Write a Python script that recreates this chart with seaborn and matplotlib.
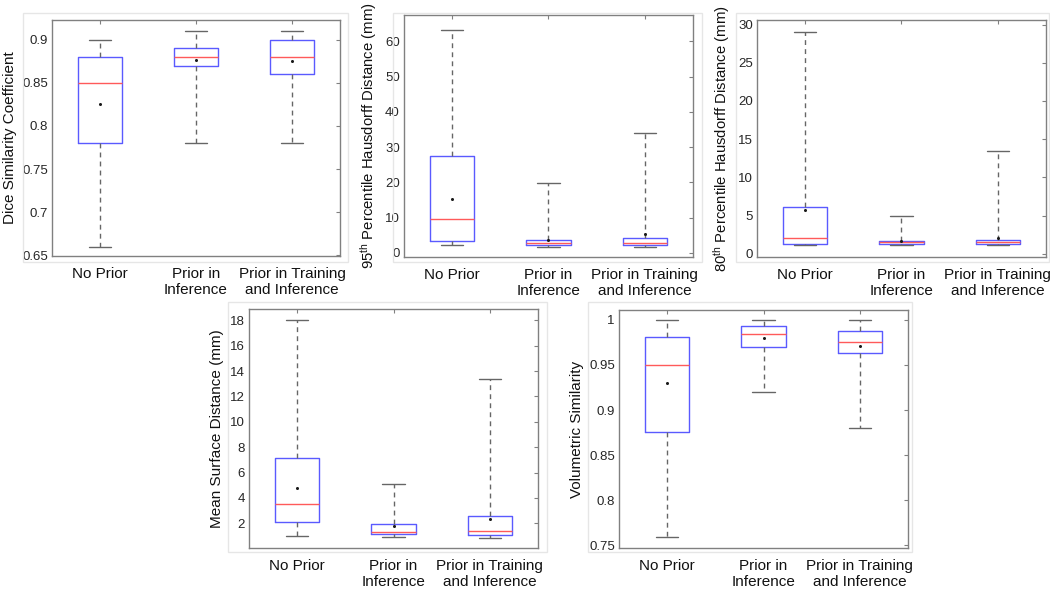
import numpy as np
import pandas as pd
import matplotlib
matplotlib.use('Agg')
import matplotlib.pyplot as plt
from matplotlib.patches import Rectangle
import seaborn as sns

# Groups compared in every panel
categories = ["No Prior", "Prior in\nInference", "Prior in Training\nand Inference"]

# Five-number summaries per group: [lower whisker, Q1, median, Q3, upper whisker]
dsc_summary = [
    [0.66, 0.78, 0.85, 0.88, 0.90],
    [0.78, 0.87, 0.88, 0.89, 0.91],
    [0.78, 0.86, 0.88, 0.90, 0.91],
]
dsc_mean = [0.825, 0.876, 0.875]

hd95_summary = [
    [2.1, 3.4, 9.6, 27.5, 63.3],
    [1.6, 2.3, 2.8, 3.7, 19.8],
    [1.6, 2.2, 2.7, 4.3, 33.9],
]
hd95_mean = [15.2, 3.6, 5.2]

hd80_summary = [
    [1.15, 1.33, 2.05, 6.15, 29.0],
    [1.15, 1.30, 1.55, 1.70, 5.0],
    [1.15, 1.25, 1.55, 1.75, 13.5],
]
hd80_mean = [5.7, 1.7, 2.05]

msd_summary = [
    [1.0, 2.08, 3.5, 7.16, 18.03],
    [0.95, 1.16, 1.34, 1.97, 5.1],
    [0.87, 1.10, 1.37, 2.58, 13.4],
]
msd_mean = [4.76, 1.79, 2.32]

vs_summary = [
    [0.759, 0.876, 0.950, 0.981, 1.0],
    [0.920, 0.970, 0.9845, 0.9937, 1.0],
    [0.880, 0.963, 0.976, 0.988, 1.0],
]
vs_mean = [0.930, 0.980, 0.971]

sns.set_theme(style="white")
plt.rcParams['font.family'] = ['Liberation Sans', 'DejaVu Sans']
plt.rcParams['mathtext.fontset'] = 'custom'
plt.rcParams['mathtext.rm'] = 'Liberation Sans'
plt.rcParams['mathtext.it'] = 'Liberation Sans:italic'

W, H = 1050, 590
fig = plt.figure(figsize=(10.5, 5.9), dpi=100)


def px_axes(x0, x1, y0, y1):
    return fig.add_axes([x0 / W, 1 - y1 / H, (x1 - x0) / W, (y1 - y0) / H])


def frame(x0, x1, y0, y1):
    fig.add_artist(Rectangle((x0 / W, 1 - y1 / H), (x1 - x0) / W, (y1 - y0) / H,
                             transform=fig.transFigure, fill=False,
                             ec='#e6e6e6', lw=1))


box_blue = '#5a5aff'
med_red = '#ff5a5a'
axis_gray = '#808080'
whisk_gray = '#666666'


def draw_panel(ax, summary, means, ylabel, ylim, yticks, yticklabels, label_size=11):
    df = pd.DataFrame({
        "group": np.repeat(categories, 5),
        "value": np.concatenate(summary),
    })
    sns.boxplot(data=df, x="group", y="value", order=categories, ax=ax,
                width=0.46, whis=(0, 100), fill=False, color=box_blue,
                linewidth=1, showfliers=False,
                boxprops=dict(color=box_blue, linewidth=1),
                medianprops=dict(color=med_red, linewidth=1),
                whiskerprops=dict(color=whisk_gray, linewidth=1, linestyle=(0, (3.5, 3))),
                capprops=dict(color=whisk_gray, linewidth=1))
    sns.stripplot(x=categories, y=means, order=categories, ax=ax, color='k',
                  size=2.2, jitter=False, linewidth=0, zorder=5)
    ax.set_xlim(-0.5, 2.5)
    ax.set_ylim(*ylim)
    ax.set_yticks(yticks)
    ax.set_yticklabels(yticklabels, fontsize=9.5, color='#262626')
    ax.set_xticks(range(3))
    ax.set_xticklabels(categories, fontsize=11, color='#111111')
    ax.set_xlabel('')
    ax.set_ylabel(ylabel, fontsize=label_size, color='#111111', labelpad=4)
    ax.tick_params(axis='both', direction='in', length=3, width=0.8,
                   color=axis_gray, top=True, right=True)
    ax.tick_params(axis='x', pad=8)
    ax.tick_params(axis='y', pad=3)
    for s in ax.spines.values():
        s.set_visible(True)
        s.set_color(axis_gray)
        s.set_linewidth(1)


# top row
frame(23, 348, 13, 262)
ax1 = px_axes(52, 340, 20, 256)
draw_panel(ax1, dsc_summary, dsc_mean, 'Dice Similarity Coefficient',
           (0.649, 0.923), [0.65, 0.7, 0.75, 0.8, 0.85, 0.9],
           ['0.65', '0.7', '0.75', '0.8', '0.85', '0.9'])

frame(393, 702, 13, 262)
ax2 = px_axes(404, 693, 15, 257)
draw_panel(ax2, hd95_summary, hd95_mean,
           r'95$^{\mathrm{th}}$ Percentile Hausdorff Distance (mm)',
           (-1.2, 67.5), [0, 10, 20, 30, 40, 50, 60],
           ['0', '10', '20', '30', '40', '50', '60'], label_size=10.7)

frame(736, 1049, 13, 262)
ax3 = px_axes(757, 1046, 20, 257)
draw_panel(ax3, hd80_summary, hd80_mean,
           r'80$^{\mathrm{th}}$ Percentile Hausdorff Distance (mm)',
           (-0.43, 30.6), [0, 5, 10, 15, 20, 25, 30],
           ['0', '5', '10', '15', '20', '25', '30'], label_size=10.7)

# bottom row
frame(228, 547, 302, 552)
ax4 = px_axes(249, 538, 309, 548)
draw_panel(ax4, msd_summary, msd_mean, 'Mean Surface Distance (mm)',
           (0.05, 18.9), [2, 4, 6, 8, 10, 12, 14, 16, 18],
           ['2', '4', '6', '8', '10', '12', '14', '16', '18'])

frame(588, 912, 302, 552)
ax5 = px_axes(619, 908, 310, 548)
draw_panel(ax5, vs_summary, vs_mean, 'Volumetric Similarity',
           (0.747, 1.011), [0.75, 0.8, 0.85, 0.9, 0.95, 1.0],
           ['0.75', '0.8', '0.85', '0.9', '0.95', '1'])

fig.savefig('out.png', dpi=100)
plt.close(fig)
